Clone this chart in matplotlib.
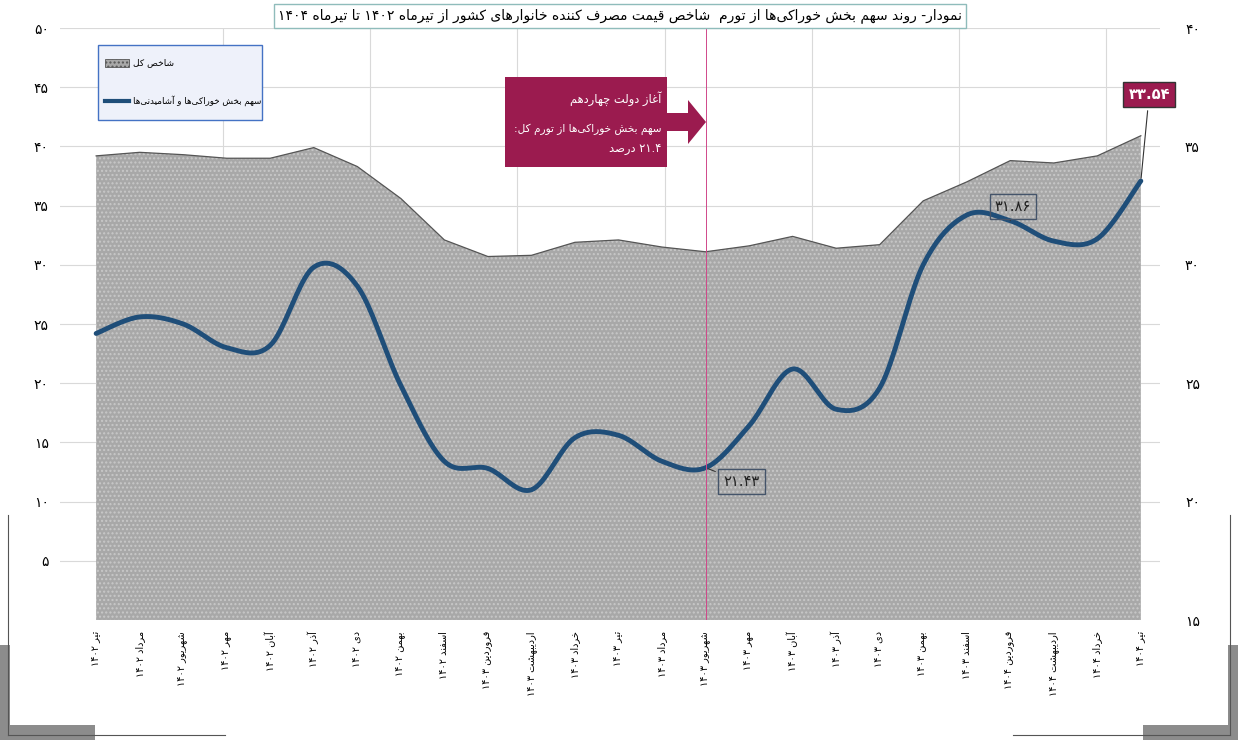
import re
import unicodedata

import numpy as np
import matplotlib
matplotlib.use("Agg")
import matplotlib.pyplot as plt
from matplotlib.patches import Rectangle, Polygon

# --- data -------------------------------------------------------------
MONTHS = ["تیر", "مرداد", "شهریور", "مهر", "آبان", "آذر", "دی", "بهمن", "اسفند",
          "فروردین", "اردیبهشت", "خرداد"]
YEARS = ["۱۴۰۲"] * 9 + ["۱۴۰۳"] * 12 + ["۱۴۰۴"] * 4
MONTH_SEQ = (MONTHS[:9] + MONTHS[9:] + MONTHS[:9] + MONTHS[9:] + MONTHS[:1])
TOTAL_INDEX = [39.2, 39.5, 39.3, 39.0, 39.0, 39.9, 38.3, 35.6, 32.1, 30.7, 30.8, 31.9, 32.1,
               31.5, 31.1, 31.6, 32.4, 31.4, 31.7, 35.4, 37.0, 38.8, 38.6, 39.2, 40.9]
FOOD_SHARE = [27.1, 27.8, 27.5, 26.5, 26.6, 29.9, 29.1, 24.9, 21.7, 21.4, 20.5, 22.7, 22.8,
              21.7, 21.43, 23.2, 25.6, 23.9, 24.8, 30.0, 32.1, 31.86, 31.0, 31.1, 33.54]
LEFT_TICKS = [5, 10, 15, 20, 25, 30, 35, 40, 45, 50]
RIGHT_TICKS = [15, 20, 25, 30, 35, 40]
START_IDX = 14  # شهریور ۱۴۰۳

MAROON = "#9B1B4F"
NAVY = "#1F4E79"
FA_DIGITS = str.maketrans("0123456789", "۰۱۲۳۴۵۶۷۸۹")
NON_JOIN_NEXT = set("اآأإدذرزژوؤة")


def _is_ar(c):
    return "\u0620" <= c <= "\u06FF" and c not in "۰۱۲۳۴۵۶۷۸۹"


def _form(c, form):
    try:
        return unicodedata.lookup(f"{unicodedata.name(c)} {form} FORM")
    except KeyError:
        return c


def fa(s):
    """Minimal Persian shaping + right-to-left ordering for matplotlib."""
    out = []
    for i, c in enumerate(s):
        if not _is_ar(c):
            out.append(c)
            continue
        prev = s[i - 1] if i > 0 else ""
        nxt = s[i + 1] if i + 1 < len(s) else ""
        pj = _is_ar(prev) and prev not in NON_JOIN_NEXT
        nj = c not in NON_JOIN_NEXT and _is_ar(nxt)
        form = {(True, True): "MEDIAL", (True, False): "FINAL",
                (False, True): "INITIAL", (False, False): "ISOLATED"}[(pj, nj)]
        out.append(_form(c, form))
    shaped = "".join(out).replace("\u200c", "")
    runs = re.findall(r"[0-9۰-۹]+(?:[.,][0-9۰-۹]+)*|[^0-9۰-۹]+", shaped)
    vis = [r if re.match(r"[0-9۰-۹]", r) else r[::-1] for r in runs]
    return "".join(vis[::-1])


def smooth(x, y, n=20):
    """Catmull-Rom curve through the data points (for drawing only)."""
    x = np.asarray(x, float); y = np.asarray(y, float)
    px = np.r_[x[0], x, x[-1]]; py = np.r_[y[0], y, y[-1]]
    xs, ys = [], []
    t = np.linspace(0, 1, n, endpoint=False)
    for i in range(1, len(px) - 2):
        for p, acc in ((px, xs), (py, ys)):
            p0, p1, p2, p3 = p[i - 1], p[i], p[i + 1], p[i + 2]
            acc.extend(0.5 * (2 * p1 + (-p0 + p2) * t + (2 * p0 - 5 * p1 + 4 * p2 - p3) * t ** 2
                              + (-p0 + 3 * p1 - 3 * p2 + p3) * t ** 3))
    xs.append(x[-1]); ys.append(y[-1])
    return np.array(xs), np.array(ys)


W, H = 1238, 740
fig = plt.figure(figsize=(W / 100, H / 100), dpi=100)
plt.rcParams["font.family"] = "DejaVu Sans"


def fx(x):
    return x / W


def fy(y):
    return 1 - y / H


ax = fig.add_axes([fx(60), fy(620), fx(1160) - fx(60), fy(28) - fy(620)])
ax2 = ax.twinx()
x = np.arange(len(TOTAL_INDEX))

# area (left axis)
ax.fill_between(x, 0, TOTAL_INDEX, facecolor="#A8A8A8", edgecolor="#C8C8C8",
                hatch="....", linewidth=0, zorder=2)
ax.plot(x, TOTAL_INDEX, color="#555555", lw=0.9, zorder=3)
ax.set_ylim(0, 50)
ax.set_xlim(-0.83, 24.44)
ax.set_yticks(LEFT_TICKS)
ax.set_yticklabels([str(v).translate(FA_DIGITS) for v in LEFT_TICKS], fontsize=10)
ax.grid(axis="y", color="#D9D9D9", lw=0.8, zorder=0)
for gx in np.arange(2.92, 24.4, 3.38):
    ax.axvline(gx, color="#D9D9D9", lw=0.8, zorder=0)
ax.set_xticks(x)
ax.set_xticklabels([fa(f"{m} {y}") for m, y in zip(MONTH_SEQ, YEARS)],
                   rotation=90, fontsize=7, va="top")
ax.tick_params(length=0, pad=8)
for s in ax.spines.values():
    s.set_visible(False)
for s in ax2.spines.values():
    s.set_visible(False)

# line (right axis)
sx, sy = smooth(x, FOOD_SHARE)
ax2.plot(sx, sy, color=NAVY, lw=3.5, zorder=5, solid_capstyle="round")
ax2.set_ylim(15, 40)
ax2.set_yticks(RIGHT_TICKS)
ax2.set_yticklabels([str(v).translate(FA_DIGITS) for v in RIGHT_TICKS], fontsize=10)
ax2.tick_params(length=0, pad=18)
ax2.axvline(START_IDX, color="#D0488A", lw=0.7, zorder=6)

# value callouts
def callout(i, dx, dy, face, edge, color, bold=False):
    ax2.annotate(f"{FOOD_SHARE[i]:.2f}".translate(FA_DIGITS), xy=(i, FOOD_SHARE[i]),
                 xytext=(dx, dy), textcoords="offset points", fontsize=10.5, color=color,
                 fontweight="bold" if bold else "normal", ha="center", va="center", zorder=8,
                 bbox=dict(boxstyle="square,pad=0.35", fc=face, ec=edge, lw=1),
                 arrowprops=dict(arrowstyle="-", color="#333333", lw=0.8))


callout(14, 26, -10, "none", "#44546A", "#222222")
callout(21, 2, 10, "none", "#44546A", "#222222")
callout(24, 6, 62, MAROON, "#333333", "white", bold=True)

# title
fig.text(fx(620), fy(16), fa("نمودار- روند سهم بخش خوراکی‌ها از تورم  شاخص قیمت مصرف کننده خانوارهای کشور از تیرماه ۱۴۰۲ تا تیرماه ۱۴۰۴"),
         ha="center", va="center", fontsize=10,
         bbox=dict(boxstyle="square,pad=0.3", fc="white", ec="#8FBCBB", lw=1))

# legend box
fig.patches.append(Rectangle((fx(98), fy(120)), fx(164), fy(45) - fy(120), transform=fig.transFigure,
                             fc="#EEF1FA", ec="#4472C4", lw=1, zorder=10))
fig.patches.append(Rectangle((fx(105), fy(67)), fx(24), fy(59) - fy(67), transform=fig.transFigure,
                             fc="#A8A8A8", ec="#555555", hatch="....", lw=0.6, zorder=11))
fig.text(fx(133), fy(63), fa("شاخص کل"), fontsize=6.5, ha="left", va="center", zorder=12)
fig.lines.append(plt.Line2D([fx(105), fx(129)], [fy(101), fy(101)], transform=fig.transFigure,
                            color=NAVY, lw=3, zorder=11))
fig.text(fx(133), fy(101), fa("سهم بخش خوراکی‌ها و آشامیدنی‌ها"), fontsize=6.3, ha="left",
         va="center", zorder=12)

# start-of-government box with arrow
fig.patches.append(Rectangle((fx(505), fy(167)), fx(162), fy(77) - fy(167), transform=fig.transFigure,
                             fc=MAROON, ec="none", zorder=10))
fig.patches.append(Polygon([(fx(666), fy(113)), (fx(688), fy(113)), (fx(688), fy(100)),
                            (fx(706), fy(122)), (fx(688), fy(144)), (fx(688), fy(131)),
                            (fx(666), fy(131))], closed=True, transform=fig.transFigure,
                           fc=MAROON, ec="none", zorder=10))
for ty, txt, fs in ((99, "آغاز دولت چهاردهم", 8.3), (129, "سهم بخش خوراکی‌ها از تورم کل:", 7.6),
                    (149, "۲۱.۴ درصد", 8.3)):
    fig.text(fx(661), fy(ty), fa(txt), color="white", fontsize=fs, ha="right", va="center", zorder=12)

# decorative corner brackets
GRAY = "#8C8C8C"
for xs_, ys_ in (([8, 8], [515, 735]), ([8, 225], [735, 735]),
                 ([1230, 1230], [515, 735]), ([1013, 1230], [735, 735])):
    fig.lines.append(plt.Line2D([fx(v) for v in xs_], [fy(v) for v in ys_],
                                transform=fig.transFigure, color="#555555", lw=0.8))
for rx, ry, rw, rh in ((0, 645, 10, 95), (0, 725, 95, 15), (1228, 645, 10, 95), (1143, 725, 95, 15)):
    fig.patches.append(Rectangle((fx(rx), fy(ry + rh)), fx(rw), fy(ry) - fy(ry + rh),
                                 transform=fig.transFigure, fc=GRAY, ec="none"))

fig.savefig("out.png", dpi=100)
